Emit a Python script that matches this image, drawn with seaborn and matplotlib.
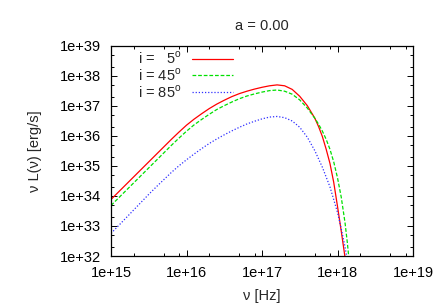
import numpy as np
import pandas as pd
import matplotlib
matplotlib.use("Agg")
import matplotlib.pyplot as plt
import matplotlib.ticker as mticker
import seaborn as sns

# log10(nu [Hz]) and log10(nu L_nu [erg/s])
nu_05 = [15.0, 15.1, 15.2, 15.3, 15.4, 15.5, 15.6, 15.7, 15.8, 15.9, 16.0, 16.1, 16.2,
         16.3, 16.4, 16.5, 16.6, 16.7, 16.8, 16.9, 17.0, 17.1, 17.2, 17.3, 17.4, 17.5,
         17.6, 17.7, 17.75, 17.8, 17.85, 17.9, 17.95, 18.0, 18.05, 18.1, 18.12]
L_05 = [33.88, 34.13, 34.38, 34.63, 34.88, 35.13, 35.38, 35.63, 35.88, 36.12, 36.35,
        36.55, 36.73, 36.9, 37.05, 37.18, 37.30, 37.40, 37.48, 37.55, 37.61, 37.66,
        37.69, 37.66, 37.54, 37.31, 37.0, 36.58, 36.3, 35.97, 35.55, 35.08, 34.45,
        33.65, 32.82, 31.95, 31.6]

nu_45 = [15.0, 15.1, 15.2, 15.3, 15.4, 15.5, 15.6, 15.7, 15.8, 15.9, 16.0, 16.1, 16.2,
         16.3, 16.4, 16.5, 16.6, 16.7, 16.8, 16.9, 17.0, 17.1, 17.2, 17.3, 17.4, 17.5,
         17.6, 17.7, 17.75, 17.8, 17.85, 17.9, 17.95, 18.0, 18.05, 18.1, 18.13, 18.16]
L_45 = [33.68, 33.93, 34.18, 34.43, 34.68, 34.93, 35.18, 35.43, 35.68, 35.92, 36.15,
        36.36, 36.54, 36.71, 36.87, 37.0, 37.12, 37.23, 37.32, 37.39, 37.45, 37.5,
        37.52, 37.48, 37.38, 37.19, 36.92, 36.58, 36.38, 36.15, 35.88, 35.55, 35.13,
        34.6, 33.95, 33.1, 32.45, 31.7]

nu_85 = [15.0, 15.1, 15.2, 15.3, 15.4, 15.5, 15.6, 15.7, 15.8, 15.9, 16.0, 16.1, 16.2,
         16.3, 16.4, 16.5, 16.6, 16.7, 16.8, 16.9, 17.0, 17.1, 17.2, 17.3, 17.4, 17.5,
         17.6, 17.7, 17.8, 17.9, 18.0, 18.05, 18.1, 18.14]
L_85 = [32.75, 33.01, 33.27, 33.53, 33.79, 34.05, 34.3, 34.54, 34.78, 35.0, 35.2,
        35.39, 35.57, 35.74, 35.89, 36.03, 36.16, 36.28, 36.39, 36.48, 36.56, 36.62,
        36.64, 36.6, 36.49, 36.28, 35.95, 35.5, 34.95, 34.3, 33.45, 32.9, 32.3, 31.7]

labels = ["i =   5$^{\\rm o}$", "i = 45$^{\\rm o}$", "i = 85$^{\\rm o}$"]
colors = ["#ff0000", "#00e000", "#3030ff"]
styles = ["-", (0, (3, 1.5)), (0, (1, 1.5))]

sns.set_theme(style="ticks")
plt.rcParams["font.family"] = ["Liberation Sans", "DejaVu Sans"]
plt.rcParams["mathtext.fontset"] = "custom"
plt.rcParams["mathtext.rm"] = "Liberation Sans"
plt.rcParams["font.size"] = 10.5

fig = plt.figure(figsize=(4.36, 3.05), dpi=100)
ax = fig.add_axes([111 / 436, 1 - 256 / 305, 302 / 436, 210.5 / 305])

series = [(nu_05, L_05), (nu_45, L_45), (nu_85, L_85)]
for (nu, L), lab, c, ls in zip(series, labels, colors, styles):
    df = pd.DataFrame({"nu": 10.0 ** np.array(nu), "L": 10.0 ** np.array(L)})
    sns.lineplot(data=df, x="nu", y="L", ax=ax, color=c, linestyle=ls,
                 linewidth=0.9, label=lab, sort=False)

ax.set_xscale("log")
ax.set_yscale("log")
ax.set_xlim(1e15, 1e19)
ax.set_ylim(1e32, 1e39)

fmt = mticker.FuncFormatter(lambda v, p: "1e+%d" % int(round(np.log10(v))))
ax.xaxis.set_major_locator(mticker.FixedLocator([10.0 ** k for k in range(15, 20)]))
ax.yaxis.set_major_locator(mticker.FixedLocator([10.0 ** k for k in range(32, 40)]))
ax.xaxis.set_minor_locator(mticker.LogLocator(base=10, subs=(2, 5, 8)))
ax.yaxis.set_minor_locator(mticker.LogLocator(base=10, subs=(2, 5)))
ax.xaxis.set_major_formatter(fmt)
ax.yaxis.set_major_formatter(fmt)
ax.xaxis.set_minor_formatter(mticker.NullFormatter())
ax.yaxis.set_minor_formatter(mticker.NullFormatter())

ax.tick_params(which="both", direction="in", top=True, right=True, width=0.7,
               colors="black", labelsize=10.5)
ax.tick_params(which="major", length=4)
ax.tick_params(which="minor", length=2)
ax.tick_params(axis="x", which="major", pad=7)
ax.tick_params(axis="y", which="major", pad=7)
for s in ax.spines.values():
    s.set_linewidth(0.9)
    s.set_color("black")

ax.set_xlabel("ν [Hz]", fontsize=10.5, labelpad=7)
ax.set_ylabel("ν L(ν) [erg/s]", fontsize=10.5, labelpad=13)
ax.set_title("a = 0.00", fontsize=10.5, pad=11.5)

ax.legend(loc="upper left", bbox_to_anchor=(138 / 436, 1 - 50 / 305),
          bbox_transform=fig.transFigure, frameon=False, markerfirst=False,
          handlelength=2.8, handletextpad=0.7, labelspacing=0.0,
          borderpad=0, borderaxespad=0, fontsize=10.5)

fig.savefig("out.png", dpi=100)
